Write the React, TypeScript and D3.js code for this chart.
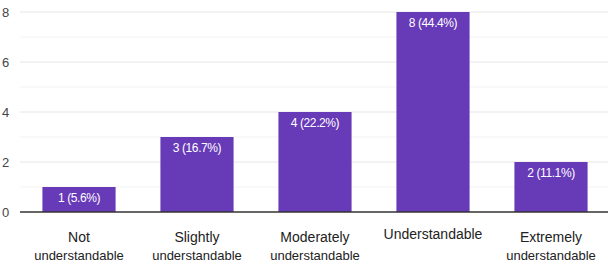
import React from "react";
import * as d3 from "d3";

const categories = ["Not understandable", "Slightly understandable", "Moderately understandable", "Understandable", "Extremely understandable"];
const firstLines = ["Not", "Slightly", "Moderately", "Understandable", "Extremely"];
const secondLines = ["understandable", "understandable", "understandable", "", "understandable"];
const counts = [1, 3, 4, 8, 2];
const percents = ["5.6%", "16.7%", "22.2%", "44.4%", "11.1%"];
const yTicks = [0, 2, 4, 6, 8];
const yGrid = [1, 2, 3, 4, 5, 6, 7, 8];

const W = 608, H = 268;
const left = 20, right = 610, top = 12, bottom = 212;

export default function App() {
  const x = d3.scaleBand<string>().domain(categories).range([left, right]).paddingInner(0.38).paddingOuter(0.19);
  const y = d3.scaleLinear().domain([0, 8]).range([bottom, top]);
  const font = "'Liberation Sans', Arial, sans-serif";
  return (
    <svg width={W} height={H} style={{ position: "absolute", left: 0, top: 0 }}>
      <rect width={W} height={H} fill="#fff" />
      {yGrid.map((t) => (
        <line key={t} x1={left} x2={W} y1={y(t)} y2={y(t)} stroke={t % 2 === 0 ? "#e6e6e6" : "#f3f3f3"} strokeWidth={1} />
      ))}
      {yTicks.map((t) => (
        <text key={t} x={2} y={y(t)} dy="0.35em" fontSize={13} fill="#444" fontFamily={font}>{t}</text>
      ))}
      {categories.map((c, i) => {
        const bx = x(c)!;
        const bw = x.bandwidth();
        return (
          <g key={c}>
            <rect x={bx} y={y(counts[i])} width={bw} height={bottom - y(counts[i])} fill="#673ab7" />
            <text x={bx + bw / 2} y={y(counts[i]) + 11} dy="0.35em" textAnchor="middle" fontSize={12} fill="#fff" fontFamily={font} style={{ letterSpacing: "-0.4px" }}>
              {`${counts[i]} (${percents[i]})`}
            </text>
            {secondLines[i] ? (
              <>
                <text x={bx + bw / 2} y={237} dy="0.35em" textAnchor="middle" fontSize={14} fill="#222" fontFamily={font}>{firstLines[i]}</text>
                <text x={bx + bw / 2} y={255} dy="0.35em" textAnchor="middle" fontSize={13} fill="#222" fontFamily={font}>{secondLines[i]}</text>
              </>
            ) : (
              <text x={bx + bw / 2} y={234} dy="0.35em" textAnchor="middle" fontSize={14} fill="#222" fontFamily={font}>{firstLines[i]}</text>
            )}
          </g>
        );
      })}
      <line x1={left} x2={W} y1={bottom} y2={bottom} stroke="#333" strokeWidth={1.5} />
    </svg>
  );
}
